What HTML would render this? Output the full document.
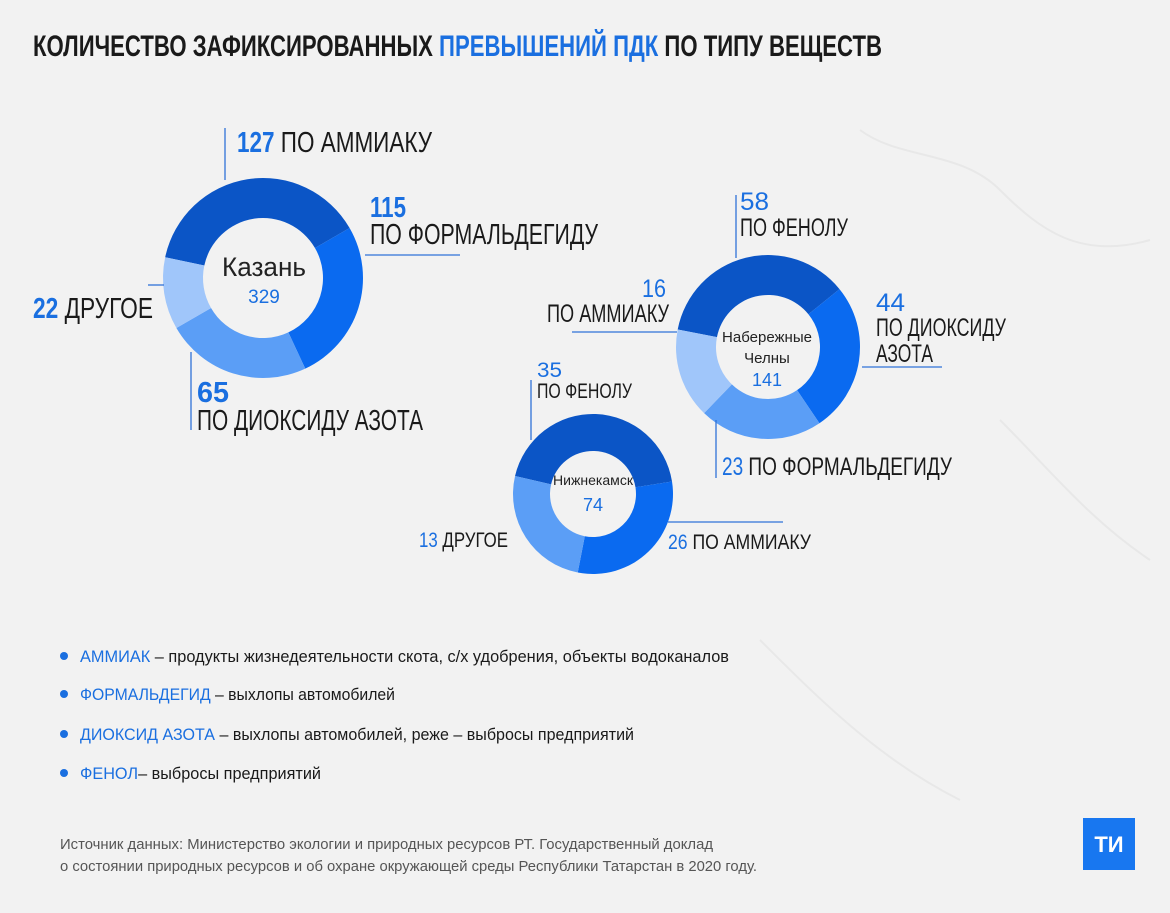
<!DOCTYPE html>
<html><head><meta charset="utf-8"><style>
html,body{margin:0;padding:0;background:#f2f2f2;}
svg{display:block;font-family:"Liberation Sans","DejaVu Sans",sans-serif;}
</style></head><body>
<svg id="s" width="1170" height="913" viewBox="0 0 1170 913" xmlns="http://www.w3.org/2000/svg">
<rect width="1170" height="913" fill="#f2f2f2"/>
<g fill="none" stroke="#e8e8e8" stroke-width="2">
<path d="M860 130 C900 160 960 150 1000 190 S1080 260 1150 240"/>
<path d="M1000 420 C1050 470 1090 520 1150 560"/>
<path d="M760 640 C820 700 880 760 960 800"/>
</g>
<text x="33" y="56" font-size="30" font-weight="bold" textLength="849" lengthAdjust="spacingAndGlyphs" fill="#1a1a1a">КОЛИЧЕСТВО ЗАФИКСИРОВАННЫХ <tspan fill="#1a6fe0">ПРЕВЫШЕНИЙ ПДК</tspan> ПО ТИПУ ВЕЩЕСТВ</text>
<g id="donuts"></g>
<g stroke="#2f72d8" stroke-width="1.3">
<line x1="225" y1="128" x2="225" y2="180"/>
<line x1="365" y1="255" x2="460" y2="255"/>
<line x1="148" y1="285" x2="164" y2="285"/>
<line x1="191" y1="352" x2="191" y2="430"/>
<line x1="736" y1="195" x2="736" y2="258"/>
<line x1="572" y1="332" x2="677" y2="332"/>
<line x1="862" y1="367" x2="942" y2="367"/>
<line x1="716" y1="420" x2="716" y2="478"/>
<line x1="531" y1="380" x2="531" y2="440"/>
<line x1="668" y1="522" x2="783" y2="522"/>
</g>
<g font-size="29" fill="#1a1a1a">
<text x="237" y="152" textLength="195" lengthAdjust="spacingAndGlyphs"><tspan fill="#1a6fe0" font-weight="bold">127</tspan> ПО АММИАКУ</text>
<text x="370" y="217" fill="#1a6fe0" font-weight="bold" textLength="36" lengthAdjust="spacingAndGlyphs">115</text>
<text x="370" y="244" textLength="228" lengthAdjust="spacingAndGlyphs">ПО ФОРМАЛЬДЕГИДУ</text>
<text x="33" y="318" textLength="120" lengthAdjust="spacingAndGlyphs"><tspan fill="#1a6fe0" font-weight="bold">22</tspan> ДРУГОЕ</text>
<text x="197" y="402" fill="#1a6fe0" font-weight="bold" textLength="32" lengthAdjust="spacingAndGlyphs">65</text>
<text x="197" y="430" textLength="226" lengthAdjust="spacingAndGlyphs">ПО ДИОКСИДУ АЗОТА</text>
</g>
<g font-size="25" fill="#1a1a1a">
<text x="740" y="210" fill="#1a6fe0" textLength="29" lengthAdjust="spacingAndGlyphs">58</text>
<text x="740" y="236" textLength="108" lengthAdjust="spacingAndGlyphs">ПО ФЕНОЛУ</text>
<text x="642" y="297" fill="#1a6fe0" textLength="24" lengthAdjust="spacingAndGlyphs">16</text>
<text x="547" y="322" textLength="122" lengthAdjust="spacingAndGlyphs">ПО АММИАКУ</text>
<text x="876" y="311" fill="#1a6fe0" textLength="29" lengthAdjust="spacingAndGlyphs">44</text>
<text x="876" y="336" textLength="130" lengthAdjust="spacingAndGlyphs">ПО ДИОКСИДУ</text>
<text x="876" y="362" textLength="57" lengthAdjust="spacingAndGlyphs">АЗОТА</text>
<text x="722" y="475" textLength="230" lengthAdjust="spacingAndGlyphs"><tspan fill="#1a6fe0">23</tspan> ПО ФОРМАЛЬДЕГИДУ</text>
</g>
<g font-size="21" fill="#1a1a1a">
<text x="537" y="377" fill="#1a6fe0" textLength="25" lengthAdjust="spacingAndGlyphs">35</text>
<text x="537" y="398" textLength="95" lengthAdjust="spacingAndGlyphs">ПО ФЕНОЛУ</text>
<text x="419" y="547" textLength="89" lengthAdjust="spacingAndGlyphs"><tspan fill="#1a6fe0">13</tspan> ДРУГОЕ</text>
<text x="668" y="549" textLength="143" lengthAdjust="spacingAndGlyphs"><tspan fill="#1a6fe0">26</tspan> ПО АММИАКУ</text>
</g>
<g text-anchor="middle">
<text x="264" y="276" font-size="27" fill="#222" textLength="84" lengthAdjust="spacingAndGlyphs">Казань</text>
<text x="264" y="303" font-size="19" fill="#1a6fe0">329</text>
<text x="767" y="342" font-size="15" fill="#222" textLength="90" lengthAdjust="spacingAndGlyphs">Набережные</text>
<text x="767" y="363" font-size="15" fill="#222">Челны</text>
<text x="767" y="386" font-size="18" fill="#1a6fe0">141</text>
<text x="593" y="485" font-size="14" fill="#222" textLength="80" lengthAdjust="spacingAndGlyphs">Нижнекамск</text>
<text x="593" y="511" font-size="18" fill="#1a6fe0">74</text>
</g>
<g font-size="16.5" fill="#1a1a1a">
<circle cx="64" cy="656" r="4" fill="#1a6fe0"/>
<text x="80" y="662" textLength="649" lengthAdjust="spacingAndGlyphs"><tspan fill="#1a6fe0">АММИАК</tspan> – продукты жизнедеятельности скота, с/х удобрения, объекты водоканалов</text>
<circle cx="64" cy="694" r="4" fill="#1a6fe0"/>
<text x="80" y="700" textLength="315" lengthAdjust="spacingAndGlyphs"><tspan fill="#1a6fe0">ФОРМАЛЬДЕГИД</tspan> – выхлопы автомобилей</text>
<circle cx="64" cy="734" r="4" fill="#1a6fe0"/>
<text x="80" y="740" textLength="554" lengthAdjust="spacingAndGlyphs"><tspan fill="#1a6fe0">ДИОКСИД АЗОТА</tspan> – выхлопы автомобилей, реже – выбросы предприятий</text>
<circle cx="64" cy="773" r="4" fill="#1a6fe0"/>
<text x="80" y="779" textLength="241" lengthAdjust="spacingAndGlyphs"><tspan fill="#1a6fe0">ФЕНОЛ</tspan>– выбросы предприятий</text>
</g>
<g font-size="15" fill="#555">
<text x="60" y="849" textLength="653" lengthAdjust="spacingAndGlyphs">Источник данных: Министерство экологии и природных ресурсов РТ. Государственный доклад</text>
<text x="60" y="871" textLength="697" lengthAdjust="spacingAndGlyphs">о состоянии природных ресурсов и об охране окружающей среды Республики Татарстан в 2020 году.</text>
</g>
<rect x="1083" y="818" width="52" height="52" fill="#1877f0"/>
<text x="1109" y="852" font-size="22" font-weight="bold" fill="#fff" text-anchor="middle">ТИ</text>
</svg>
<script>
var g=document.getElementById('donuts');
var C={d:'#0b55c6',b:'#0a6af0',m:'#5b9ef6',l:'#a0c6fa'};
function arc(cx,cy,R,r,a0,a1,col){
 function p(rad,a){var t=(a-90)*Math.PI/180;return [cx+rad*Math.cos(t),cy+rad*Math.sin(t)];}
 var d=a1-a0;if(d<0)d+=360;var lg=d>180?1:0;var e=a0+d;
 var A=p(R,a0),B=p(R,e),c=p(r,e),D=p(r,a0);
 var path=document.createElementNS('http://www.w3.org/2000/svg','path');
 path.setAttribute('d','M'+A+' A'+R+' '+R+' 0 '+lg+' 1 '+B+' L'+c+' A'+r+' '+r+' 0 '+lg+' 0 '+D+'Z');
 path.setAttribute('fill',col);g.appendChild(path);
}
arc(263,278,100,60,282,60,C.d);arc(263,278,100,60,60,155,C.b);arc(263,278,100,60,155,240,C.m);arc(263,278,100,60,240,282,C.l);
arc(768,347,92,52,281,51,C.d);arc(768,347,92,52,51,146,C.b);arc(768,347,92,52,146,224,C.m);arc(768,347,92,52,224,281,C.l);
arc(593,494,80,43,283,81,C.d);arc(593,494,80,43,81,191,C.b);arc(593,494,80,43,191,283,C.m);
</script>
</body></html>
